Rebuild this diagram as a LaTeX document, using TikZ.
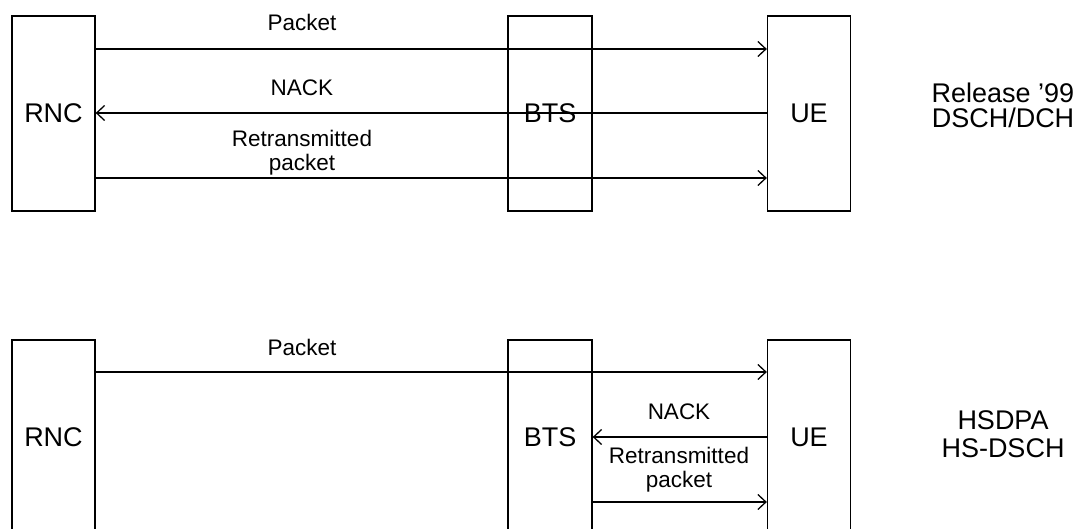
\documentclass[tikz,border=0pt]{standalone}
\usepackage{fontspec}
\setmainfont{Liberation Sans}
\usetikzlibrary{arrows.meta}
\begin{document}
\begin{tikzpicture}[x=1pt,y=-1pt,
  ent/.style={draw, line width=1.3pt, minimum width=83pt, minimum height=195pt, inner sep=0pt, font=\fontsize{27}{30}\selectfont},
  arr/.style={line width=1.4pt, -{Straight Barb[length=8pt,width=15pt,line width=1.3pt]}},
  lbl/.style={font=\fontsize{22.5}{27}\selectfont, inner sep=0pt},
  side/.style={font=\fontsize{27}{30}\selectfont, inner sep=0pt}]
\useasboundingbox (0,0) rectangle (1079,529);
\clip (0,0) rectangle (1079,529);
% top scenario
\node[ent] (rnc1) at (53.5,113.5) {RNC};
\node[ent, minimum width=84pt] (bts1) at (550,113.5) {};
\node (btst1) at (550,113.5) [font=\fontsize{27}{30}\selectfont] {BTS};
\node[ent] (ue1) at (809,113.5) {UE};
\coordinate (r1) at (0,49);
\coordinate (r2) at (0,113);
\coordinate (r3) at (0,178);
\draw[arr] (rnc1.east |- r1) -- (ue1.west |- r1);
\draw[arr] (ue1.west |- r2) -- (rnc1.east |- r2);
\draw[arr] (rnc1.east |- r3) -- (ue1.west |- r3);
\node[lbl] (pk1) at (302,22) {Packet};
\node[lbl] (nk1) at (302,88) {NACK};
\node[lbl] (rt1) at (302,138) {Retransmitted};
\node[lbl] (rp1) at (302,165) {packet};
\node[side] (rel1) at (1003,93) {Release ’99};
\node[side] (rel2) at (1003,118) {DSCH/DCH};
% bottom scenario
\node[ent] (rnc2) at (53.5,437.5) {RNC};
\node[ent, minimum width=84pt] (bts2) at (550,437.5) {BTS};
\node[ent] (ue2) at (809,437.5) {UE};
\coordinate (s1) at (0,372);
\coordinate (s2) at (0,437);
\coordinate (s3) at (0,502);
\draw[arr] (rnc2.east |- s1) -- (ue2.west |- s1);
\draw[arr] (ue2.west |- s2) -- (bts2.east |- s2);
\draw[arr] (bts2.east |- s3) -- (ue2.west |- s3);
\node[lbl] (pk2) at (302,347) {Packet};
\node[lbl] (nk2) at (679,412) {NACK};
\node[lbl] (rt2) at (679,455) {Retransmitted};
\node[lbl] (rp2) at (679,482) {packet};
\node[side] (hs1) at (1003,420) {HSDPA};
\node[side] (hs2) at (1003,448) {HS-DSCH};
\end{tikzpicture}
\end{document}
